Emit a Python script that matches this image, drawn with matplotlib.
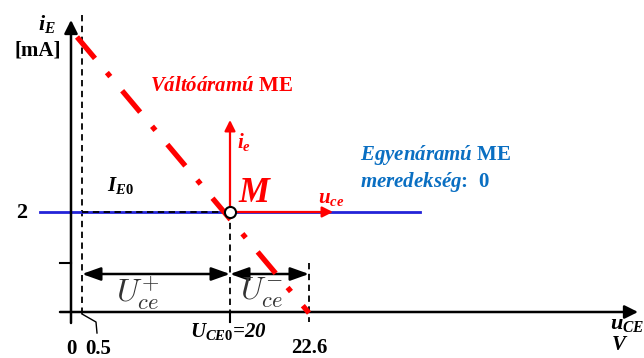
import numpy as np
import matplotlib
matplotlib.use("Agg")
import matplotlib.pyplot as plt

# betűtípus: Times-szerű félkövér dőlt
plt.rcParams["font.family"] = ["Liberation Serif", "DejaVu Serif"]
plt.rcParams["mathtext.fontset"] = "custom"
plt.rcParams["mathtext.rm"] = "Liberation Serif:bold"
plt.rcParams["mathtext.it"] = "Liberation Serif:italic:bold"
plt.rcParams["mathtext.bf"] = "Liberation Serif:bold"

RED = "#ff0000"
BLUE = "#2323d8"
TXT_BLUE = "#0a6fc2"

# rajz-koordináták (a séma nem méretarányos)
u_labels = ["0", "0.5", "20", "22.6"]
u_pos = [71, 82, 230, 309]          # vízszintes helyek
i_labels = ["2"]
i_pos = [212]                       # függőleges hely (i_E0)
axis_y = 312                        # u_CE tengely
ie_top = 120                        # i_e nyíl csúcsa
uce_tip = 333                       # u_ce nyíl csúcsa
ac_line_x = [77, 309]               # váltóáramú munkaegyenes
ac_line_y = [37, 313]
dc_line_x = [40, 420]               # egyenáramú munkaegyenes
arrow_y = 274                       # U_ce+ / U_ce- nyilak

fig = plt.figure(figsize=(6.44, 3.58), dpi=100)
ax = fig.add_axes([0, 0, 1, 1])
ax.set_xlim(0, 644)
ax.set_ylim(358, 0)
ax.axis("off")

x0, x05, xq, xm = u_pos
yq = i_pos[0]

def arrow(tail, tip, color="k", lw=1.8, style="-|>", ms=18, z=3):
    ax.annotate("", xy=tip, xytext=tail,
                arrowprops=dict(arrowstyle=style, color=color, lw=lw,
                                mutation_scale=ms, shrinkA=0, shrinkB=0),
                zorder=z)

# tengelyek
arrow((x0, 323), (x0, 20), ms=20)
arrow((60, axis_y), (638, axis_y), ms=20)
ax.plot([60, x0], [263, 263], color="k", lw=1.5)
ax.plot([xq, xq], [axis_y, 322], color="k", lw=1.5)

# szaggatott segédvonalak
dash = dict(color="k", lw=1.3, linestyle=(0, (3.5, 2.5)))
ax.plot([x05, x05], [15, 315], **dash)
ax.plot([xq, xq], [yq, axis_y], **dash)
ax.plot([xm, xm], [263, 322], **dash)
# 0.5 jelölő vonal
ax.plot([x05, 96, 97], [314, 322, 333], color="k", lw=1.0)

# egyenáramú munkaegyenes
ax.plot(dc_line_x, [yq, yq], color=BLUE, lw=2.0, zorder=2)
ax.plot([x05, xq], [yq, yq], color="k", lw=1.3, linestyle=(0, (3.5, 2.5)), zorder=3)

# váltóáramú munkaegyenes
ax.plot(ac_line_x, ac_line_y, color=RED, lw=3.8, linestyle=(0, (5.3, 3.5, 1, 3.5)),
        solid_capstyle="butt", dash_capstyle="butt", zorder=4)

# i_e és u_ce nyilak
arrow((xq, yq), (xq, ie_top), color=RED, lw=1.6, ms=16, z=5)
arrow((xq, yq), (uce_tip, yq), color=RED, lw=1.6, ms=16, z=5)

# munkapont
ax.plot([xq], [yq], marker="o", markersize=8, markerfacecolor="white",
        markeredgecolor="k", markeredgewidth=1.5, zorder=6)

# U_ce+ és U_ce- nyilak
dbl = "<|-|>,head_length=0.7,head_width=0.25"
arrow((x05, arrow_y), (xq, arrow_y), lw=1.8, style=dbl, ms=16)
arrow((xq, arrow_y), (xm, arrow_y), lw=1.8, style=dbl, ms=16)
ax.text(138, 293, r"$U_{ce}^{+}$", fontsize=23, color="#333333", math_fontfamily="cm",
        ha="center", va="center")
ax.text(262, 293, r"$U_{ce}^{-}$", fontsize=23, color="#333333", math_fontfamily="cm",
        ha="center", va="center")

# feliratok
ax.text(47, 24, r"$i_E$", fontsize=16, ha="center", va="center")
ax.text(38, 51, "[mA]", fontsize=15, fontweight="bold", ha="center", va="center")
ax.text(22, 213, i_labels[0], fontsize=16, fontweight="bold", ha="center", va="center")
ax.text(120, 186, r"$I_{E0}$", fontsize=15, ha="center", va="center")
ax.text(x0, 349, u_labels[0], fontsize=15, fontweight="bold", ha="center", va="center")
ax.text(98, 349, u_labels[1], fontsize=15, fontweight="bold", ha="center", va="center")
ax.text(xq - 2, 331, r"$U_{CE0}$" + "=" + u_labels[2], fontsize=15,
        fontweight="bold", fontstyle="italic", ha="center", va="center")
ax.text(xm, 348, u_labels[3], fontsize=15, fontweight="bold", ha="center", va="center")
ax.text(627, 324, r"$u_{CE}$", fontsize=16, ha="center", va="center")
ax.text(620, 346, r"$V$", fontsize=15, ha="center", va="center")

ax.text(150, 86, r"$\mathit{Váltóáramú}$ ME", fontsize=15, color=RED, fontweight="bold",
        ha="left", va="center")
ax.text(244, 142, r"$i_e$", fontsize=15, color=RED, ha="center", va="center")
ax.text(255, 194, r"$M$", fontsize=25, color=RED, ha="center", va="center")
ax.text(331, 198, r"$u_{ce}$", fontsize=15, color=RED, ha="center", va="center")

ax.text(360, 155, r"$\mathit{Egyenáramú}$ ME", fontsize=15, color=TXT_BLUE,
        fontweight="bold", ha="left", va="center")
ax.text(360, 182, r"$\mathit{meredekség}$:  0", fontsize=15, color=TXT_BLUE,
        fontweight="bold", ha="left", va="center")

fig.savefig("out.png", dpi=100)
